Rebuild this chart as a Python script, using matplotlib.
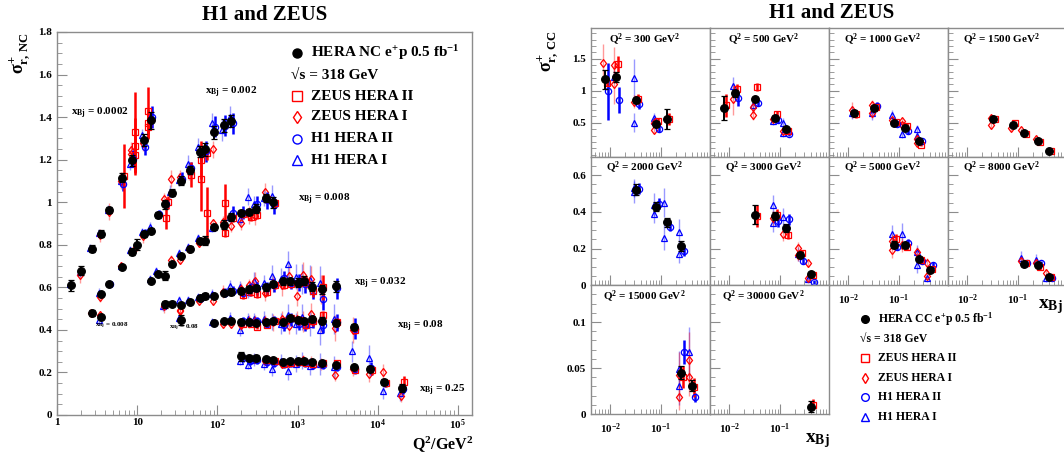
import numpy as np
import matplotlib
matplotlib.use('Agg')
import matplotlib.pyplot as plt
from matplotlib.colors import to_rgba
from matplotlib.ticker import FixedLocator, MultipleLocator, LogLocator, NullFormatter, FuncFormatter

plt.rcParams['font.family'] = ['Liberation Serif', 'DejaVu Serif']
plt.rcParams['font.weight'] = 'bold'
plt.rcParams['mathtext.fontset'] = 'custom'
plt.rcParams['mathtext.rm'] = 'Liberation Serif:bold'
plt.rcParams['mathtext.it'] = 'Liberation Serif:bold'
plt.rcParams['mathtext.bf'] = 'Liberation Serif:bold'

# ---------------- NC e+p reduced cross sections (left) ----------------
# HERA combined, bins x = 0.0002, 0.002, 0.008, 0.032, 0.08, 0.25
nc_hera_q2 = [1.5, 2, 2.7, 3.5, 4.5, 6.5, 8.5, 12, 15,
              3.5, 4.5, 6.5, 8.5, 10, 12, 15, 18, 22, 27, 35, 45, 60, 70, 90, 120, 150,
              2.7, 3.5, 15, 18, 22, 27, 35, 45, 60, 70, 90, 120, 150, 200, 250, 300, 400, 500,
              22, 27, 35, 45, 60, 70, 90, 120, 150, 200, 250, 300, 400, 500, 650, 800, 1000, 1200, 1500, 2000, 3000,
              35, 90, 120, 150, 200, 250, 300, 400, 500, 650, 800, 1000, 1200, 1500, 2000, 3000, 5000,
              200, 250, 300, 400, 500, 650, 800, 1000, 1200, 1500, 2000, 3000, 5000, 8000, 12000, 20000]
nc_hera_sig = [0.61, 0.678, 0.782, 0.853, 0.963, 1.115, 1.197, 1.292, 1.385,
               0.568, 0.615, 0.697, 0.768, 0.80, 0.85, 0.867, 0.94, 0.99, 1.045, 1.102, 1.152, 1.237, 1.248, 1.328, 1.362, 1.382,
               0.48, 0.462, 0.632, 0.665, 0.655, 0.708, 0.746, 0.782, 0.82, 0.82, 0.883, 0.895, 0.93, 0.95, 0.955, 0.97, 1.02, 1.0,
               0.52, 0.523, 0.517, 0.533, 0.55, 0.56, 0.557, 0.572, 0.58, 0.583, 0.59, 0.596, 0.60, 0.617, 0.628, 0.628, 0.622, 0.632, 0.603, 0.59, 0.605,
               0.447, 0.434, 0.44, 0.443, 0.435, 0.436, 0.434, 0.435, 0.44, 0.436, 0.455, 0.448, 0.441, 0.451, 0.444, 0.432, 0.413,
               0.275, 0.268, 0.268, 0.262, 0.259, 0.249, 0.253, 0.255, 0.253, 0.248, 0.244, 0.233, 0.225, 0.215, 0.155, 0.127]
nc_hera_err = [0.025, 0.02, 0.015, 0.015, 0.015, 0.02, 0.025, 0.03, 0.04,
               0.01, 0.01, 0.008, 0.015, 0.025, 0.015, 0.012, 0.015, 0.02, 0.015, 0.02, 0.02, 0.025, 0.03, 0.03, 0.03, 0.03,
               0.015, 0.01, 0.008, 0.008, 0.02, 0.008, 0.01, 0.01, 0.01, 0.02, 0.012, 0.02, 0.02, 0.015, 0.015, 0.02, 0.02, 0.025,
               0.015, 0.012, 0.008, 0.008, 0.01, 0.015, 0.008, 0.008, 0.015, 0.015, 0.015, 0.015, 0.015, 0.012, 0.015, 0.015, 0.02, 0.02, 0.02, 0.02, 0.025,
               0.025, 0.008, 0.008, 0.01, 0.01, 0.01, 0.01, 0.01, 0.01, 0.01, 0.012, 0.012, 0.012, 0.015, 0.015, 0.015, 0.015,
               0.02, 0.015, 0.015, 0.01, 0.01, 0.01, 0.01, 0.01, 0.01, 0.01, 0.01, 0.012, 0.01, 0.015, 0.015, 0.02]

# ZEUS HERA II
nc_z2_q2 = [6.5, 9, 9, 9, 13, 13, 13,
            22, 23, 45, 60, 60, 70,
            70, 120, 120, 150, 200, 250, 300, 400, 500,
            200, 250, 300, 400, 500, 650, 800, 1000, 1200, 1500, 2000,
            200, 250, 300, 400, 500, 650, 800, 1000, 1200, 1500, 2000, 3000, 5000,
            400, 500, 650, 800, 1000, 1200, 1500, 2000, 3000, 5000, 8000, 12000, 20000]
nc_z2_sig = [1.125, 1.33, 1.265, 1.22, 1.43, 1.37, 1.355,
             0.925, 1.0, 1.13, 1.20, 1.11, 1.23,
             0.95, 0.995, 0.855, 0.925, 0.945, 0.93, 0.94, 1.015, 0.995,
             0.565, 0.58, 0.57, 0.58, 0.61, 0.61, 0.615, 0.62, 0.625, 0.585, 0.60,
             0.43, 0.43, 0.415, 0.425, 0.44, 0.44, 0.455, 0.445, 0.425, 0.44, 0.47, 0.435, 0.40,
             0.26, 0.255, 0.24, 0.245, 0.25, 0.245, 0.24, 0.245, 0.245, 0.21, 0.21, 0.15, 0.155]
nc_z2_err = [0.15, 0.19, 0.13, 0.09, 0.11, 0.07, 0.06,
             0.05, 0.03, 0.06, 0.09, 0.15, 0.03,
             0.12, 0.09, 0.02, 0.02, 0.02, 0.02, 0.02, 0.02, 0.02,
             0.02, 0.02, 0.02, 0.02, 0.02, 0.02, 0.02, 0.02, 0.03, 0.03, 0.06,
             0.01, 0.01, 0.01, 0.01, 0.01, 0.02, 0.02, 0.02, 0.02, 0.02, 0.02, 0.02, 0.02,
             0.01, 0.01, 0.01, 0.01, 0.01, 0.01, 0.01, 0.01, 0.01, 0.01, 0.02, 0.02, 0.03]

# ZEUS HERA I
nc_z1_q2 = [2, 3.5, 4.5, 6.5, 8.5, 8.5, 12,
            3.5, 6.5, 10, 12, 22, 27, 35, 45, 90,
            2.7, 3.5, 27, 35, 45, 60, 90, 120, 150, 200, 250, 300, 400,
            22, 35, 60, 90, 120, 200, 250, 300, 400, 500, 650, 800, 1000, 1200, 1500, 2000,
            35, 120, 150, 200, 250, 300, 400, 500, 650, 800, 1000, 1200, 1500, 2000, 3000, 5000,
            300, 400, 650, 800, 1000, 1200, 1500, 2000, 3000, 5000, 8000, 12000, 20000]
nc_z1_sig = [0.66, 0.845, 0.955, 1.10, 1.245, 1.225, 1.28,
             0.553, 0.70, 0.79, 0.84, 1.015, 1.11, 1.12, 1.145, 1.25,
             0.48, 0.47, 0.73, 0.73, 0.78, 0.81, 0.90, 0.905, 0.89, 0.90, 0.94, 0.935, 1.05,
             0.51, 0.495, 0.535, 0.535, 0.58, 0.59, 0.61, 0.63, 0.575, 0.62, 0.61, 0.655, 0.56, 0.66, 0.64, 0.59,
             0.49, 0.43, 0.43, 0.425, 0.44, 0.44, 0.44, 0.435, 0.45, 0.42, 0.45, 0.44, 0.475, 0.44, 0.41, 0.40,
             0.265, 0.255, 0.24, 0.245, 0.25, 0.26, 0.245, 0.24, 0.19, 0.215, 0.195, 0.20, 0.09]
nc_z1_err = [0.04, 0.03, 0.04, 0.04, 0.04, 0.04, 0.04,
             0.02, 0.02, 0.02, 0.03, 0.03, 0.04, 0.03, 0.04, 0.04,
             0.02, 0.02, 0.02, 0.02, 0.02, 0.02, 0.02, 0.03, 0.03, 0.03, 0.04, 0.04, 0.04,
             0.03, 0.03, 0.02, 0.02, 0.03, 0.03, 0.03, 0.04, 0.04, 0.04, 0.05, 0.05, 0.05, 0.06, 0.06, 0.07,
             0.03, 0.02, 0.02, 0.03, 0.03, 0.03, 0.03, 0.04, 0.04, 0.04, 0.04, 0.05, 0.05, 0.05, 0.06, 0.06,
             0.02, 0.02, 0.02, 0.02, 0.02, 0.02, 0.03, 0.03, 0.03, 0.03, 0.04, 0.04, 0.03]

# H1 HERA II
nc_h2_q2 = [6.5, 8.5, 12, 15,
            4.5, 12, 18, 22, 35, 45, 60, 70, 90, 120, 150,
            150, 200, 300, 400, 500,
            60, 120, 150, 200, 250, 300, 400, 500, 650, 800, 1000, 1200, 1500, 2000, 3000,
            200, 250, 300, 400, 500, 650, 800, 1000, 1200, 1500, 2000, 3000, 5000,
            200, 250, 300, 400, 500, 650, 800, 1000, 1200, 1500, 2000, 3000, 5000, 8000, 12000, 20000]
nc_h2_sig = [1.085, 1.205, 1.26, 1.40,
             0.615, 0.855, 0.945, 0.99, 1.11, 1.16, 1.23, 1.24, 1.355, 1.36, 1.37,
             0.95, 0.95, 0.99, 1.01, 0.985,
             0.55, 0.575, 0.585, 0.575, 0.59, 0.595, 0.595, 0.61, 0.645, 0.62, 0.625, 0.615, 0.585, 0.545, 0.595,
             0.44, 0.435, 0.44, 0.43, 0.445, 0.425, 0.45, 0.43, 0.425, 0.44, 0.425, 0.435, 0.405,
             0.27, 0.255, 0.26, 0.25, 0.245, 0.24, 0.245, 0.25, 0.245, 0.235, 0.235, 0.225, 0.215, 0.22, 0.15, 0.12]
nc_h2_err = [0.03, 0.04, 0.04, 0.05,
             0.01, 0.02, 0.02, 0.02, 0.03, 0.03, 0.04, 0.05, 0.05, 0.05, 0.05,
             0.03, 0.03, 0.04, 0.04, 0.04,
             0.02, 0.02, 0.02, 0.02, 0.03, 0.03, 0.03, 0.03, 0.03, 0.03, 0.04, 0.04, 0.04, 0.05, 0.05,
             0.02, 0.02, 0.02, 0.02, 0.02, 0.03, 0.03, 0.03, 0.03, 0.03, 0.04, 0.04, 0.05,
             0.02, 0.02, 0.02, 0.02, 0.02, 0.02, 0.02, 0.02, 0.02, 0.02, 0.02, 0.02, 0.02, 0.03, 0.02, 0.02]

# H1 HERA I
nc_h1_q2 = [1.5, 2, 2.7, 3.5, 4.5, 6.5, 8.5, 12,
            3.5, 6.5, 8.5, 12, 15, 27, 35, 45, 60, 90, 120, 150,
            3.5, 15, 18, 35, 45, 60, 90, 150, 200, 250, 300, 400, 500,
            22, 35, 45, 60, 90, 150, 200, 250, 300, 400, 500, 650, 800, 1000, 1200, 1500, 2000,
            35, 90, 150, 200, 250, 300, 400, 500, 650, 800, 1000, 1200, 1500, 2000, 3000,
            200, 250, 300, 400, 500, 650, 800, 1000, 1200, 1500, 2000, 3000, 5000, 8000, 12000, 20000]
nc_h1_sig = [0.615, 0.67, 0.785, 0.855, 0.965, 1.10, 1.18, 1.315,
             0.575, 0.70, 0.775, 0.86, 0.885, 1.05, 1.105, 1.18, 1.26, 1.37, 1.34, 1.40,
             0.445, 0.64, 0.675, 0.76, 0.79, 0.83, 0.88, 0.93, 0.92, 1.025, 0.99, 1.02, 1.03,
             0.51, 0.54, 0.54, 0.555, 0.57, 0.605, 0.60, 0.58, 0.63, 0.62, 0.655, 0.64, 0.71, 0.65, 0.64, 0.635, 0.62,
             0.455, 0.435, 0.455, 0.40, 0.45, 0.45, 0.45, 0.44, 0.43, 0.47, 0.43, 0.46, 0.43, 0.40, 0.45,
             0.255, 0.235, 0.26, 0.24, 0.215, 0.255, 0.205, 0.24, 0.255, 0.23, 0.24, 0.225, 0.30, 0.27, 0.115, 0.105]
nc_h1_err = [0.02, 0.02, 0.02, 0.02, 0.02, 0.03, 0.03, 0.03,
             0.02, 0.02, 0.02, 0.02, 0.02, 0.03, 0.03, 0.04, 0.04, 0.05, 0.05, 0.05,
             0.02, 0.02, 0.02, 0.02, 0.02, 0.02, 0.02, 0.03, 0.03, 0.04, 0.04, 0.04, 0.05,
             0.02, 0.02, 0.02, 0.02, 0.02, 0.03, 0.03, 0.03, 0.04, 0.04, 0.05, 0.05, 0.06, 0.06, 0.07, 0.07, 0.08,
             0.02, 0.02, 0.03, 0.03, 0.03, 0.03, 0.04, 0.04, 0.05, 0.05, 0.05, 0.06, 0.06, 0.07, 0.07,
             0.02, 0.02, 0.03, 0.03, 0.03, 0.03, 0.04, 0.04, 0.04, 0.04, 0.05, 0.05, 0.05, 0.06, 0.04, 0.04]

nc_bin_labels = ['0.0002', '0.002', '0.008', '0.032', '0.08', '0.25']
nc_label_q2 = [1.5, 70, 1000, 5050, 17300, 33000]
nc_label_sig = [1.415, 1.515, 1.015, 0.616, 0.415, 0.117]
nc_small_labels = ['0.008', '0.08']
nc_small_q2 = [2.98, 24.9]
nc_small_sig = [0.42, 0.41]

# ---------------- CC e+p reduced cross sections (right) ----------------
cc_bins = [300, 500, 1000, 1500, 2000, 3000, 5000, 8000, 15000, 30000]

cc_hera_q2 = [300] * 5 + [500] * 5 + [1000] * 5 + [1500] * 5 + [2000] * 4 + [3000] * 5 + [5000] * 4 + [8000] * 3 + [15000] * 2 + [30000]
cc_hera_x = [0.008, 0.013, 0.032, 0.08, 0.13, 0.008, 0.013, 0.032, 0.08, 0.13,
             0.013, 0.032, 0.08, 0.13, 0.25, 0.032, 0.08, 0.13, 0.25, 0.4,
             0.032, 0.08, 0.13, 0.25, 0.032, 0.08, 0.13, 0.25, 0.4,
             0.08, 0.13, 0.25, 0.4, 0.13, 0.25, 0.4, 0.25, 0.4, 0.4]
cc_hera_sig = [1.18, 1.22, 0.85, 0.48, 0.56, 0.73, 0.96, 0.865, 0.575, 0.41,
               0.65, 0.73, 0.50, 0.42, 0.21, 0.56, 0.47, 0.345, 0.22, 0.06,
               0.519, 0.429, 0.344, 0.214, 0.385, 0.378, 0.312, 0.168, 0.061,
               0.222, 0.218, 0.142, 0.086, 0.119, 0.11, 0.047, 0.045, 0.031, 0.008]
cc_hera_err = [0.15, 0.08, 0.04, 0.04, 0.15, 0.19, 0.05, 0.03, 0.03, 0.03,
               0.05, 0.04, 0.03, 0.03, 0.02, 0.03, 0.03, 0.02, 0.02, 0.01,
               0.03, 0.025, 0.025, 0.025, 0.05, 0.02, 0.02, 0.015, 0.01,
               0.02, 0.015, 0.012, 0.012, 0.012, 0.012, 0.008, 0.007, 0.006, 0.006]

cc_z2_q2 = [300] * 5 + [500] * 5 + [1000] * 5 + [1500] * 5 + [3000] * 5 + [5000] * 4 + [8000] * 3 + [15000] * 2 + [30000]
cc_z2_x = [0.008, 0.013, 0.032, 0.08, 0.13, 0.008, 0.013, 0.032, 0.08, 0.13,
           0.013, 0.032, 0.08, 0.13, 0.25, 0.032, 0.08, 0.13, 0.25, 0.4,
           0.032, 0.08, 0.13, 0.25, 0.4, 0.08, 0.13, 0.25, 0.4, 0.13, 0.25, 0.4, 0.25, 0.4, 0.4]
cc_z2_sig = [1.12, 1.42, 0.87, 0.52, 0.56, 0.77, 1.02, 1.06, 0.64, 0.37,
             0.64, 0.74, 0.51, 0.45, 0.15, 0.56, 0.49, 0.33, 0.20, 0.06,
             0.38, 0.385, 0.275, 0.175, 0.055, 0.25, 0.21, 0.14, 0.09, 0.12, 0.10, 0.045, 0.04, 0.029, 0.01]
cc_z2_err = [0.04, 0.12, 0.08, 0.05, 0.10, 0.18, 0.08, 0.06, 0.04, 0.04,
             0.06, 0.05, 0.04, 0.04, 0.02, 0.03, 0.03, 0.02, 0.02, 0.01,
             0.06, 0.03, 0.025, 0.02, 0.01, 0.03, 0.02, 0.02, 0.015, 0.015, 0.015, 0.008, 0.012, 0.01, 0.006]

cc_z1_q2 = [300] * 6 + [500] * 5 + [1000] * 8 + [1500] * 5 + [3000] * 6 + [5000] * 6 + [8000] * 3 + [15000] * 4
cc_z1_x = [0.008, 0.013, 0.013, 0.032, 0.08, 0.08, 0.013, 0.032, 0.032, 0.08, 0.13,
           0.013, 0.032, 0.032, 0.08, 0.13, 0.13, 0.25, 0.25, 0.032, 0.032, 0.08, 0.13, 0.25,
           0.08, 0.13, 0.25, 0.25, 0.4, 0.4, 0.08, 0.08, 0.13, 0.25, 0.4, 0.4,
           0.13, 0.25, 0.4, 0.25, 0.25, 0.4, 0.4]
cc_z1_sig = [1.43, 1.40, 1.10, 0.83, 0.38, 0.50, 0.87, 0.75, 0.62, 0.56, 0.37,
             0.70, 0.78, 0.66, 0.55, 0.52, 0.47, 0.24, 0.18, 0.58, 0.46, 0.42, 0.38, 0.25,
             0.365, 0.28, 0.205, 0.165, 0.12, 0.04, 0.19, 0.24, 0.22, 0.18, 0.12, 0.05,
             0.13, 0.12, 0.07, 0.042, 0.019, 0.059, 0.04]
cc_z1_err = [0.3, 0.28, 0.3, 0.1, 0.04, 0.06, 0.25, 0.1, 0.08, 0.06, 0.05,
             0.12, 0.08, 0.08, 0.06, 0.06, 0.06, 0.05, 0.05, 0.06, 0.05, 0.05, 0.04, 0.03,
             0.04, 0.04, 0.03, 0.03, 0.02, 0.015, 0.04, 0.04, 0.04, 0.03, 0.03, 0.02,
             0.03, 0.03, 0.02, 0.025, 0.015, 0.03, 0.02]

cc_h2_q2 = [300] * 4 + [500] * 4 + [1000] * 4 + [2000] * 4 + [3000] * 4 + [5000] * 4 + [8000] * 3 + [15000] * 2
cc_h2_x = [0.008, 0.013, 0.032, 0.08, 0.013, 0.032, 0.08, 0.13, 0.032, 0.08, 0.13, 0.25,
           0.032, 0.08, 0.13, 0.25, 0.08, 0.13, 0.25, 0.4, 0.08, 0.13, 0.25, 0.4,
           0.13, 0.25, 0.4, 0.25, 0.4]
cc_h2_sig = [0.99, 0.86, 0.80, 0.41, 0.88, 0.81, 0.54, 0.33, 0.76, 0.48, 0.37, 0.21,
             0.525, 0.445, 0.32, 0.185, 0.35, 0.36, 0.135, 0.02, 0.21, 0.23, 0.13, 0.11,
             0.12, 0.12, 0.04, 0.067, 0.018]
cc_h2_err = [0.44, 0.2, 0.08, 0.05, 0.12, 0.05, 0.04, 0.04, 0.06, 0.04, 0.04, 0.03,
             0.03, 0.03, 0.025, 0.025, 0.03, 0.03, 0.02, 0.01, 0.02, 0.02, 0.015, 0.015,
             0.015, 0.015, 0.01, 0.013, 0.005]

cc_h1_q2 = [300] * 5 + [500] * 5 + [1000] * 6 + [2000] * 8 + [3000] * 5 + [5000] * 5 + [8000] * 3 + [15000] * 3
cc_h1_x = [0.013, 0.032, 0.032, 0.08, 0.08, 0.013, 0.032, 0.08, 0.13, 0.13,
           0.013, 0.032, 0.08, 0.13, 0.25, 0.25, 0.032, 0.032, 0.08, 0.08, 0.13, 0.13, 0.25, 0.25,
           0.08, 0.08, 0.13, 0.25, 0.4, 0.08, 0.13, 0.25, 0.25, 0.4, 0.13, 0.25, 0.4, 0.25, 0.25, 0.4]
cc_h1_sig = [1.22, 1.20, 0.50, 0.58, 0.52, 1.07, 0.78, 0.52, 0.50, 0.34,
             0.66, 0.65, 0.62, 0.33, 0.40, 0.29, 0.51, 0.53, 0.44, 0.39, 0.45, 0.26, 0.29, 0.17,
             0.44, 0.34, 0.37, 0.17, 0.035, 0.28, 0.28, 0.18, 0.11, 0.04, 0.15, 0.14, 0.04, 0.049, 0.03, 0.067]
cc_h1_err = [0.1, 0.3, 0.15, 0.07, 0.07, 0.15, 0.1, 0.06, 0.07, 0.06,
             0.1, 0.1, 0.08, 0.07, 0.07, 0.06, 0.06, 0.05, 0.06, 0.05, 0.08, 0.07, 0.07, 0.05,
             0.05, 0.05, 0.05, 0.04, 0.02, 0.05, 0.06, 0.04, 0.04, 0.02, 0.035, 0.03, 0.02, 0.02, 0.02, 0.028]

RED = '#ff0000'
BLUE = '#0000ff'
GRAY = '#8c8c8c'


def draw(ax, x, y, e, fmt, color, ms, lw, ealpha, mfc='none', cap=0, z=2):
    ax.errorbar(x, y, yerr=e, fmt=fmt, ms=ms, mfc=mfc, mec=color, mew=0.9,
                ecolor=to_rgba(color, ealpha), elinewidth=lw, capsize=cap,
                capthick=lw, zorder=z)


def style(ax):
    for s in ax.spines.values():
        s.set_color(GRAY)
        s.set_linewidth(1.0)
    ax.tick_params(which='both', direction='in', top=False, right=False,
                   color=GRAY, labelsize=8)
    ax.tick_params(which='major', length=7)
    ax.tick_params(which='minor', length=3.5)


def draw_all(ax, sets, dx):
    # sets: (x, y, err) for H1 I, ZEUS I, H1 II, ZEUS II, HERA
    (a, b, c, d, h) = sets
    draw(ax, np.array(a[0]) * dx[0], a[1], a[2], '^', BLUE, 4.5, 1.0, 0.4)
    draw(ax, np.array(b[0]) * dx[1], b[1], b[2], 'd', RED, 4.5, 1.0, 0.4)
    draw(ax, np.array(c[0]) * dx[2], c[1], c[2], 'o', BLUE, 4.5, 1.8, 1.0, z=3)
    draw(ax, np.array(d[0]) * dx[3], d[1], d[2], 's', RED, 4.5, 1.8, 1.0, z=3)
    draw(ax, h[0], h[1], h[2], 'o', 'black', 5.5, 1.4, 1.0, mfc='black', cap=2.2, z=4)


fig = plt.figure(figsize=(10.64, 4.53), dpi=100)
W, H = 1064.0, 453.0

# ---------- left: NC ----------
ax = fig.add_axes([57 / W, 1 - 415 / H, 415 / W, 383 / H])
ax.set_xscale('log')
ax.set_xlim(1, 1.5e5)
ax.set_ylim(0, 1.8)
draw_all(ax, [(nc_h1_q2, nc_h1_sig, nc_h1_err), (nc_z1_q2, nc_z1_sig, nc_z1_err),
              (nc_h2_q2, nc_h2_sig, nc_h2_err), (nc_z2_q2, nc_z2_sig, nc_z2_err),
              (nc_hera_q2, nc_hera_sig, nc_hera_err)], [0.96, 0.98, 1.03, 1.05])
style(ax)
ax.yaxis.set_major_locator(MultipleLocator(0.2))
ax.yaxis.set_minor_locator(MultipleLocator(0.05))
ax.yaxis.set_major_formatter(FuncFormatter(lambda v, p: '%g' % round(v, 2)))
ax.xaxis.set_major_locator(LogLocator(base=10, numticks=10))
ax.xaxis.set_minor_locator(LogLocator(base=10, subs=np.arange(2, 10), numticks=10))
ax.xaxis.set_minor_formatter(NullFormatter())
ax.xaxis.set_major_formatter(FuncFormatter(
    lambda v, p: ('%d' % round(v)) if v <= 10 else r'10$^{%d}$' % round(np.log10(v))))
ax.tick_params(axis='x', pad=2)

for lab, q, s in zip(nc_bin_labels, nc_label_q2, nc_label_sig):
    ax.text(q, s, r'x$_{\rm Bj}$ = ' + lab, fontsize=8, ha='left', va='center')
for lab, q, s in zip(nc_small_labels, nc_small_q2, nc_small_sig):
    ax.text(q, s, r'x$_{\rm Bj}$ = ' + lab, fontsize=5, ha='left', va='center')

# ---------- right: CC panels ----------
col_px = [591, 710, 829, 948]
row_top = [28, 156.7, 285.3]
pw, ph = 119, 128.7
row_ylim = [(-0.03, 1.98), (0, 0.7), (0, 0.14)]
row_major = [[0.5, 1, 1.5], [0, 0.2, 0.4, 0.6], [0, 0.05, 0.1]]
row_minor = [0.1, 0.05, 0.01]

def pick(q2s, xs, sig, err, q):
    idx = [i for i, v in enumerate(q2s) if v == q]
    return ([xs[i] for i in idx], [sig[i] for i in idx], [err[i] for i in idx])

for k, q in enumerate(cc_bins):
    r, c = divmod(k, 4)
    a = fig.add_axes([col_px[c] / W, 1 - (row_top[r] + ph) / H, pw / W, ph / H])
    a.set_xscale('log')
    a.set_xlim(0.0042, 0.92)
    a.set_ylim(*row_ylim[r])
    draw_all(a, [pick(cc_h1_q2, cc_h1_x, cc_h1_sig, cc_h1_err, q),
                 pick(cc_z1_q2, cc_z1_x, cc_z1_sig, cc_z1_err, q),
                 pick(cc_h2_q2, cc_h2_x, cc_h2_sig, cc_h2_err, q),
                 pick(cc_z2_q2, cc_z2_x, cc_z2_sig, cc_z2_err, q),
                 pick(cc_hera_q2, cc_hera_x, cc_hera_sig, cc_hera_err, q)],
             [0.9, 0.9, 1.15, 1.1])
    style(a)
    a.yaxis.set_major_locator(FixedLocator(row_major[r]))
    a.yaxis.set_minor_locator(MultipleLocator(row_minor[r]))
    a.yaxis.set_major_formatter(FuncFormatter(lambda v, p: '%g' % round(v, 3)))
    a.xaxis.set_major_locator(FixedLocator([0.01, 0.1]))
    a.xaxis.set_minor_locator(LogLocator(base=10, subs=np.arange(2, 10), numticks=10))
    a.xaxis.set_minor_formatter(NullFormatter())
    a.xaxis.set_major_formatter(FuncFormatter(lambda v, p: r'10$^{%d}$' % round(np.log10(v))))
    a.tick_params(axis='x', pad=5)
    if c > 0:
        a.tick_params(axis='y', labelleft=False)
    bottom = (r == 2) or (r == 1 and c >= 2)
    if not bottom:
        a.tick_params(axis='x', labelbottom=False)
    a.text(0.45, 0.91, r'Q$^{2}$ = %d GeV$^{2}$' % q, transform=a.transAxes,
           ha='center', va='center', fontsize=8)

# ---------- titles, labels, legends (pixel overlay) ----------
ov = fig.add_axes([0, 0, 1, 1], zorder=10)
ov.set_xlim(0, W)
ov.set_ylim(H, 0)
ov.axis('off')

ov.text(265, 15, 'H1 and ZEUS', fontsize=15, ha='center', va='center')
ov.text(832, 13, 'H1 and ZEUS', fontsize=15, ha='center', va='center')
ov.text(473, 450, r'Q$^{2}$/GeV$^{2}$', fontsize=11.5, ha='right', va='baseline')
ov.text(20, 32, r'$\sigma^{+}_{\rm r,\,NC}$', fontsize=13, rotation=90, ha='center', va='top')
ov.text(548, 30, r'$\sigma^{+}_{\rm r,\,CC}$', fontsize=13, rotation=90, ha='center', va='top')
ov.text(817, 441, r'x$_{\rm Bj}$', fontsize=14, ha='center', va='center')
ov.text(1063, 307, r'x$_{\rm Bj}$', fontsize=14, ha='right', va='center')

leg_text = ['ZEUS HERA II', 'ZEUS HERA I', 'H1 HERA II', 'H1 HERA I']
leg_mark = ['s', 'd', 'o', '^']
leg_col = [RED, RED, BLUE, BLUE]


def legend(x_m, x_t, x_s, ys, fs, ms, title):
    ov.plot([x_m], [ys[0]], 'o', color='black', ms=ms)
    ov.text(x_t, ys[0], title, fontsize=fs, va='center', ha='left')
    ov.text(x_s, ys[1], '√s = 318 GeV', fontsize=fs, va='center', ha='left')
    for y, t, m, c in zip(ys[2:], leg_text, leg_mark, leg_col):
        ov.plot([x_m], [y], m, mfc='none', mec=c, mew=1.0, ms=ms)
        ov.text(x_t, y, t, fontsize=fs, va='center', ha='left')


legend(297, 311, 291, [53, 75, 96, 117, 139, 160], 11, 6.5,
       r'HERA NC e$^{+}$p 0.5 fb$^{-1}$')
legend(865, 878, 860, [319, 339, 358, 378, 397, 417], 8.5, 5.5,
       r'HERA CC e$^{+}$p 0.5 fb$^{-1}$')

fig.savefig('out.png', dpi=100)
